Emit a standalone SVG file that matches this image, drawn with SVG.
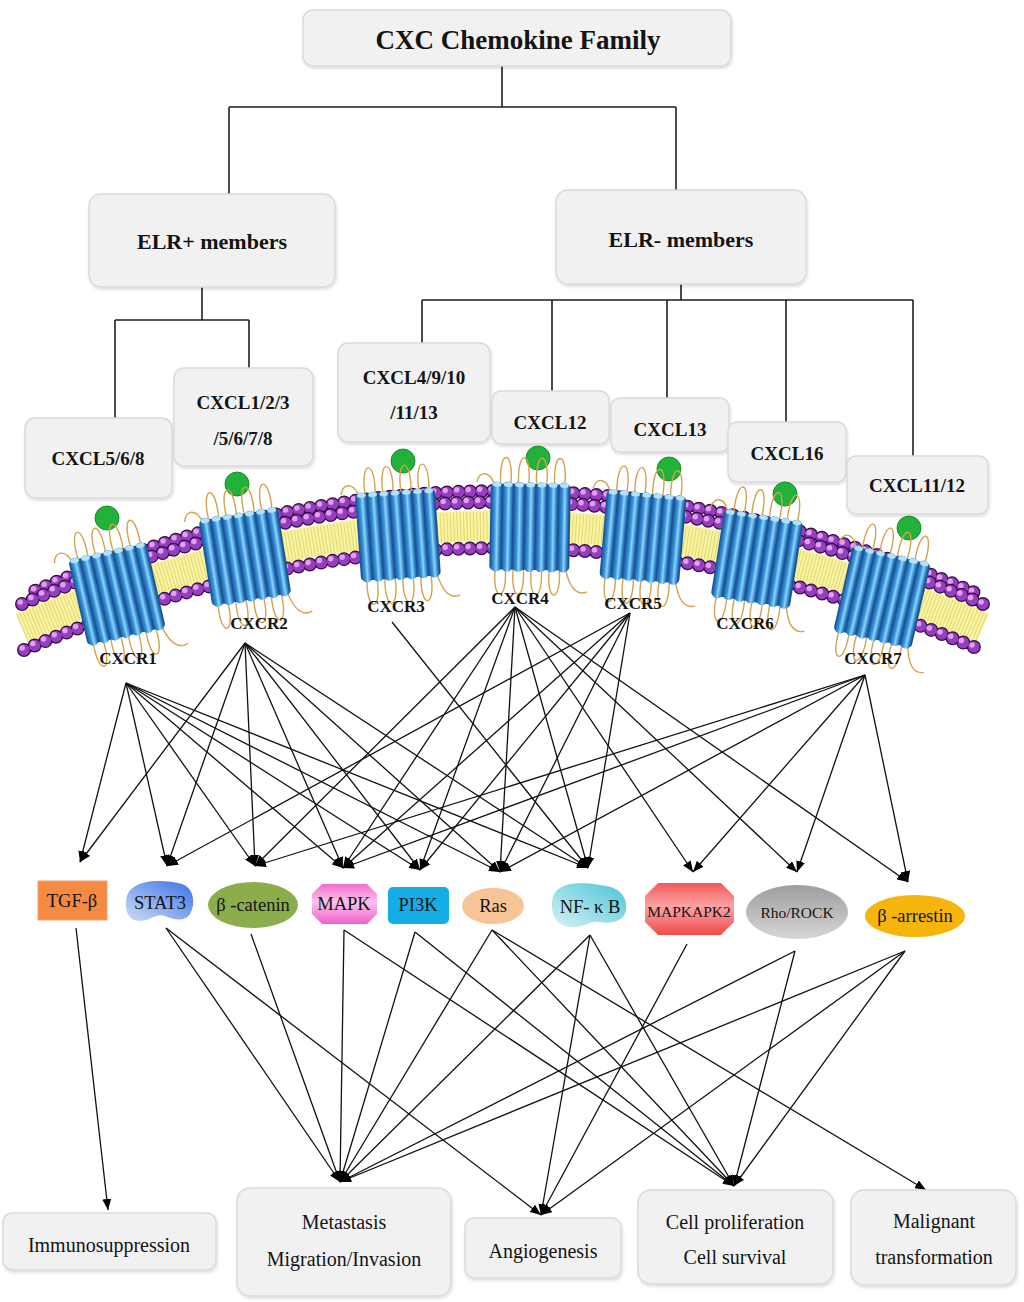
<svg xmlns="http://www.w3.org/2000/svg" xmlns:xlink="http://www.w3.org/1999/xlink" width="1024" height="1302" viewBox="0 0 1024 1302">
<style>
.box{fill:#f1f1f1;stroke:#dadada;stroke-width:1.5;filter:url(#sh)}
.t{font-family:"Liberation Serif","Times New Roman",serif;fill:#141414;text-anchor:middle}
.b{font-weight:bold}
.tree{stroke:#1e1e1e;stroke-width:1.6;fill:none}
.edge{stroke:#111;stroke-width:1.3;fill:none;marker-end:url(#ah)}
.loop{fill:none;stroke:#d4a24e;stroke-width:1.4}
.so{fill:none;stroke:#360c4a;stroke-width:14;stroke-dasharray:0 11.5;stroke-linecap:round}
.sb{fill:none;stroke:#9440bc;stroke-width:11.5;stroke-dasharray:0 11.5;stroke-linecap:round}
.sh{fill:none;stroke:#e49cf4;stroke-width:5.5;stroke-dasharray:0 11.5;stroke-linecap:round}
.lig{fill:#22b23a;stroke:#17902c;stroke-width:1}
.st{font-size:18.5px}
</style>
<defs>
<filter id="sh" x="-10%" y="-10%" width="120%" height="130%">
<feDropShadow dx="1" dy="2" stdDeviation="1.5" flood-color="#000" flood-opacity="0.13"/>
</filter>
<marker id="ah" viewBox="0 0 11 9" refX="11" refY="4.5" markerWidth="11" markerHeight="9" markerUnits="userSpaceOnUse" orient="auto">
<path d="M0,0 L11,4.5 L0,9 Z" fill="#000"/>
</marker>
<linearGradient id="hel" x1="0" y1="0" x2="1" y2="0">
<stop offset="0" stop-color="#1d5aa0"/>
<stop offset="0.35" stop-color="#3c9be0"/>
<stop offset="0.55" stop-color="#92d4f7"/>
<stop offset="0.78" stop-color="#3890d6"/>
<stop offset="1" stop-color="#194c8a"/>
</linearGradient>
<linearGradient id="gStat" x1="1" y1="0" x2="0" y2="1">
<stop offset="0" stop-color="#3a72e4"/>
<stop offset="1" stop-color="#cddcf8"/>
</linearGradient>
<linearGradient id="gNf" x1="1" y1="0" x2="0" y2="1">
<stop offset="0" stop-color="#4cc4d4"/>
<stop offset="1" stop-color="#d4f3f6"/>
</linearGradient>
<linearGradient id="gMapk" x1="0" y1="0" x2="0" y2="1">
<stop offset="0" stop-color="#f26ccd"/>
<stop offset="0.45" stop-color="#fbc2ef"/>
<stop offset="1" stop-color="#f060c8"/>
</linearGradient>
<linearGradient id="gMk2" x1="0" y1="0" x2="0" y2="1">
<stop offset="0" stop-color="#f45a5a"/>
<stop offset="0.45" stop-color="#fba4a4"/>
<stop offset="1" stop-color="#f04a4a"/>
</linearGradient>
<linearGradient id="gRho" x1="0" y1="0" x2="0" y2="1">
<stop offset="0" stop-color="#9e9e9e"/>
<stop offset="1" stop-color="#d6d6d6"/>
</linearGradient>
<path id="mInner" d="M24,650 Q502,446 981,650"/>
<path id="mBack" d="M30,593 Q502,389 975,593"/>
<path id="mFront" d="M22,604 Q502,400 983,604"/>
<g id="rcp">
<path class="loop" d="M-36,-40 C-40,-56 -52,-56 -54,-44 M-30,-42 C-33,-78 -17,-78 -20,-42 M-12,-42 C-15,-78 1,-78 -2,-42 M6,-42 C3,-78 19,-78 16,-42 M24,-42 C21,-78 37,-78 34,-42"/>
<path class="loop" d="M-34,42 C-37,76 -21,76 -24,42 M-16,42 C-19,76 -3,76 -6,42 M2,42 C-1,76 15,76 12,42 M20,42 C17,76 33,76 30,42 M36,40 C40,60 48,68 58,64"/>
<rect x="-40" y="-43" width="80" height="86" rx="4" fill="#1b5797"/>
<rect x="-39" y="-45" width="10.5" height="90" rx="5" fill="url(#hel)"/>
<rect x="-27.75" y="-45" width="10.5" height="90" rx="5" fill="url(#hel)"/>
<rect x="-16.5" y="-45" width="10.5" height="90" rx="5" fill="url(#hel)"/>
<rect x="-5.25" y="-45" width="10.5" height="90" rx="5" fill="url(#hel)"/>
<rect x="6" y="-45" width="10.5" height="90" rx="5" fill="url(#hel)"/>
<rect x="17.25" y="-45" width="10.5" height="90" rx="5" fill="url(#hel)"/>
<rect x="28.5" y="-45" width="10.5" height="90" rx="5" fill="url(#hel)"/>
<g fill="#b4e2fa">
<ellipse cx="-33.75" cy="-42" rx="4.4" ry="2.4"/>
<ellipse cx="-22.5" cy="-42" rx="4.4" ry="2.4"/>
<ellipse cx="-11.25" cy="-42" rx="4.4" ry="2.4"/>
<ellipse cx="0" cy="-42" rx="4.4" ry="2.4"/>
<ellipse cx="11.25" cy="-42" rx="4.4" ry="2.4"/>
<ellipse cx="22.5" cy="-42" rx="4.4" ry="2.4"/>
<ellipse cx="33.75" cy="-42" rx="4.4" ry="2.4"/>
</g>
</g>
</defs>

<rect width="1024" height="1302" fill="#ffffff"/>

<!-- hierarchy lines -->
<g id="tree-lines" class="tree">
<path d="M502,66 V107 M229,107 H676 M229,107 V194 M676,107 V190"/>
<path d="M202,287 V320 M115,320 H249 M115,320 V418 M249,320 V368"/>
<path d="M681,284 V300 M422,300 H913 M422,300 V343 M552,300 V391 M667,300 V398 M786,300 V422 M913,300 V456"/>
</g>

<g id="cxc-family">
<rect class="box" x="303" y="10" width="428" height="56" rx="10"/>
<text class="t b" x="518" y="49" font-size="27">CXC Chemokine Family</text>
</g>
<g id="elr-plus">
<rect class="box" x="89" y="194" width="246" height="93" rx="12"/>
<text class="t b" x="212" y="249" font-size="22">ELR+ members</text>
</g>
<g id="elr-minus">
<rect class="box" x="556" y="190" width="250" height="94" rx="12"/>
<text class="t b" x="681" y="247" font-size="22">ELR- members</text>
</g>
<g id="cxcl568">
<rect class="box" x="25" y="418" width="147" height="80" rx="10"/>
<text class="t b" x="98" y="465" font-size="19">CXCL5/6/8</text>
</g>
<g id="cxcl123">
<rect class="box" x="174" y="368" width="139" height="98" rx="10"/>
<text class="t b" x="243" y="409" font-size="19">CXCL1/2/3</text>
<text class="t b" x="243" y="445" font-size="19">/5/6/7/8</text>
</g>
<g id="cxcl4">
<rect class="box" x="338" y="343" width="152" height="99" rx="10"/>
<text class="t b" x="414" y="384" font-size="19">CXCL4/9/10</text>
<text class="t b" x="414" y="419" font-size="19">/11/13</text>
</g>
<g id="cxcl12">
<rect class="box" x="492" y="391" width="117" height="53" rx="9"/>
<text class="t b" x="550" y="429" font-size="19">CXCL12</text>
</g>
<g id="cxcl13">
<rect class="box" x="611" y="398" width="118" height="54" rx="9"/>
<text class="t b" x="670" y="436" font-size="19">CXCL13</text>
</g>
<g id="cxcl16">
<rect class="box" x="728" y="422" width="118" height="60" rx="9"/>
<text class="t b" x="787" y="460" font-size="19">CXCL16</text>
</g>
<g id="cxcl1112">
<rect class="box" x="847" y="456" width="141" height="58" rx="9"/>
<text class="t b" x="917" y="492" font-size="19">CXCL11/12</text>
</g>

<!-- membrane -->
<g id="membrane">
<path d="M22,628 Q502,424 983,628" fill="none" stroke="#f8f4a4" stroke-width="32"/>
<path d="M22,628 Q502,424 983,628" fill="none" stroke="#e2d66e" stroke-width="29" stroke-dasharray="1 2.3"/>
<use href="#mInner" class="so"/>
<use href="#mInner" class="sb"/>
<use href="#mInner" class="sh" transform="translate(-1.8,-2)"/>
<use href="#mBack" class="so" stroke-dashoffset="5.75"/>
<use href="#mBack" class="sb" stroke-dashoffset="5.75"/>
<use href="#mBack" class="sh" stroke-dashoffset="5.75" transform="translate(-1.8,-2)"/>
<use href="#mFront" class="so"/>
<use href="#mFront" class="sb"/>
<use href="#mFront" class="sh" transform="translate(-1.8,-2)"/>
</g>

<g id="ligands">
<circle class="lig" cx="107" cy="518" r="12"/>
<circle class="lig" cx="237" cy="484" r="12"/>
<circle class="lig" cx="403" cy="461" r="12"/>
<circle class="lig" cx="538" cy="458" r="12"/>
<circle class="lig" cx="669" cy="469" r="12"/>
<circle class="lig" cx="785" cy="494" r="12"/>
<circle class="lig" cx="909" cy="528" r="12"/>
</g>

<g id="cxcr1"><use href="#rcp" transform="translate(117,594) rotate(-13)"/><text class="t b" x="128" y="664" font-size="17">CXCR1</text></g>
<g id="cxcr2"><use href="#rcp" transform="translate(245,557) rotate(-9)"/><text class="t b" x="259" y="629" font-size="17">CXCR2</text></g>
<g id="cxcr3"><use href="#rcp" transform="translate(398,535) rotate(-4)"/><text class="t b" x="396" y="612" font-size="17">CXCR3</text></g>
<g id="cxcr4"><use href="#rcp" transform="translate(530,527) rotate(1)"/><text class="t b" x="520" y="604" font-size="17">CXCR4</text></g>
<g id="cxcr5"><use href="#rcp" transform="translate(643,537) rotate(5)"/><text class="t b" x="633" y="609" font-size="17">CXCR5</text></g>
<g id="cxcr6"><use href="#rcp" transform="translate(757,559) rotate(9)"/><text class="t b" x="745" y="629" font-size="17">CXCR6</text></g>
<g id="cxcr7"><use href="#rcp" transform="translate(882,597) rotate(13)"/><text class="t b" x="873" y="664" font-size="17">CXCR7</text></g>

<!-- connectors -->
<g id="connectors" class="edge">
<path d="M126,683 L80,862"/>
<path d="M126,683 L167,866"/>
<path d="M126,683 L255,866"/>
<path d="M126,683 L343,868"/>
<path d="M126,683 L420,870"/>
<path d="M126,683 L500,872"/>
<path d="M126,683 L588,868"/>
<path d="M245,643 L80,862"/>
<path d="M245,643 L167,866"/>
<path d="M245,643 L255,866"/>
<path d="M245,643 L343,868"/>
<path d="M245,643 L420,870"/>
<path d="M245,643 L500,872"/>
<path d="M245,643 L588,868"/>
<path d="M392,622 L588,868"/>
<path d="M515,607 L255,866"/>
<path d="M515,607 L343,868"/>
<path d="M515,607 L420,870"/>
<path d="M515,607 L500,872"/>
<path d="M515,607 L588,868"/>
<path d="M515,607 L693,872"/>
<path d="M515,607 L797,872"/>
<path d="M515,607 L908,882"/>
<path d="M630,613 L167,866"/>
<path d="M630,613 L343,868"/>
<path d="M630,613 L420,870"/>
<path d="M630,613 L500,872"/>
<path d="M630,613 L588,868"/>
<path d="M865,675 L255,866"/>
<path d="M865,675 L343,868"/>
<path d="M865,675 L500,872"/>
<path d="M865,675 L693,872"/>
<path d="M865,675 L797,872"/>
<path d="M865,675 L908,882"/>

<path d="M76,928 L108,1210"/>
<path d="M166,928 L340,1182"/>
<path d="M166,928 L541,1215"/>
<path d="M251,934 L340,1182"/>
<path d="M344,930 L340,1182"/>
<path d="M344,930 L734,1186"/>
<path d="M415,932 L340,1182"/>
<path d="M415,932 L734,1186"/>
<path d="M492,930 L340,1182"/>
<path d="M492,930 L734,1186"/>
<path d="M492,930 L926,1190"/>
<path d="M590,935 L340,1182"/>
<path d="M590,935 L541,1215"/>
<path d="M590,935 L734,1186"/>
<path d="M687,944 L541,1215"/>
<path d="M795,951 L340,1182"/>
<path d="M795,951 L734,1186"/>
<path d="M905,951 L340,1182"/>
<path d="M905,951 L541,1215"/>
<path d="M905,951 L734,1186"/>
</g>

<!-- signaling molecules -->
<g id="tgfb">
<rect x="38" y="881" width="69" height="39" fill="#f58a42" stroke="#f8a468" stroke-width="1"/>
<text class="t st" x="72" y="907">TGF-β</text>
</g>
<g id="stat3">
<path d="M134,887 C144,879 168,880 182,884 C194,888 196,904 190,914 C185,922 174,920 165,916 C156,913 150,921 140,921 C128,921 125,910 126,901 C127,894 129,890 134,887 Z" fill="url(#gStat)"/>
<text class="t st" x="160" y="909">STAT3</text>
</g>
<g id="bcatenin">
<ellipse cx="253" cy="905" rx="45" ry="23" fill="#8cad4b"/>
<text class="t st" x="253" y="911">β -catenin</text>
</g>
<g id="mapk">
<polygon points="322,884 367,884 377,894 377,914 367,924 322,924 312,914 312,894" fill="url(#gMapk)"/>
<text class="t st" x="344" y="910">MAPK</text>
</g>
<g id="pi3k">
<rect x="388" y="887" width="61" height="37" rx="5" fill="#14ade5"/>
<text class="t st" x="418" y="911">PI3K</text>
</g>
<g id="ras">
<ellipse cx="493" cy="906" rx="31" ry="18" fill="#f7c497"/>
<text class="t st" x="493" y="912">Ras</text>
</g>
<g id="nfkb">
<path d="M560,888 C572,880 596,884 606,886 C620,888 628,898 626,910 C624,922 610,924 600,922 C590,920 584,928 570,927 C556,926 551,914 552,902 C553,895 555,891 560,888 Z" fill="url(#gNf)"/>
<text class="t st" x="590" y="913">NF- κ B</text>
</g>
<g id="mapkapk2">
<polygon points="658,883 721,883 734,896 734,922 721,935 658,935 645,922 645,896" fill="url(#gMk2)"/>
<text class="t" x="689" y="917" font-size="15.5">MAPKAPK2</text>
</g>
<g id="rhorock">
<ellipse cx="797" cy="912" rx="51" ry="27" fill="url(#gRho)"/>
<text class="t" x="797" y="918" font-size="15.5">Rho/ROCK</text>
</g>
<g id="barrestin">
<ellipse cx="915" cy="916" rx="50" ry="21" fill="#f5b50c"/>
<text class="t st" x="915" y="922">β -arrestin</text>
</g>

<!-- outcomes -->
<g id="immuno">
<rect class="box" x="3" y="1213" width="213" height="57" rx="9"/>
<text class="t" x="109" y="1252" font-size="20">Immunosuppression</text>
</g>
<g id="metastasis">
<rect class="box" x="237" y="1188" width="214" height="108" rx="13"/>
<text class="t" x="344" y="1229" font-size="20">Metastasis</text>
<text class="t" x="344" y="1266" font-size="20">Migration/Invasion</text>
</g>
<g id="angio">
<rect class="box" x="465" y="1218" width="156" height="60" rx="9"/>
<text class="t" x="543" y="1258" font-size="20">Angiogenesis</text>
</g>
<g id="prolif">
<rect class="box" x="638" y="1190" width="195" height="94" rx="13"/>
<text class="t" x="735" y="1229" font-size="20">Cell proliferation</text>
<text class="t" x="735" y="1264" font-size="20">Cell survival</text>
</g>
<g id="malignant">
<rect class="box" x="851" y="1190" width="165" height="95" rx="13"/>
<text class="t" x="934" y="1228" font-size="20">Malignant</text>
<text class="t" x="934" y="1264" font-size="20">transformation</text>
</g>
</svg>
